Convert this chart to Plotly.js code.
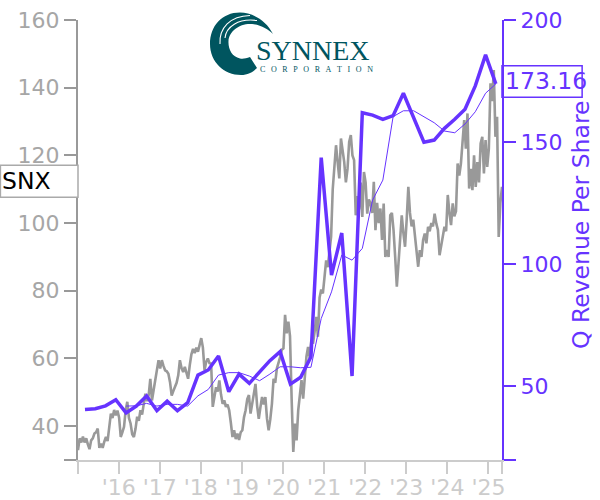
<!DOCTYPE html>
<html><head><meta charset="utf-8">
<script src="https://cdn.plot.ly/plotly-3.0.1.min.js"></script>
<style>html,body{margin:0;padding:0;background:#fff}</style></head>
<body><div id="chart" style="width:600px;height:500px"></div>
<script>
const priceValues=[
32.9,36.4,35.2,36.9,35.2,36.4,34.6,33.2,35.8,36.4,37.8,38.2,39.3,33.6,34.8,33.6,35.4,36.8,35.6,40.2,43.7,42.4,44.8,43.2,44.6,
42.6,36.8,38.2,39.8,44.7,47.2,42.4,40.8,37.6,36.8,39.2,42.8,41.6,44.7,43.4,46.8,49.6,47.4,49.2,54,47.6,50.6,54,57.2,59.5,
57,59.5,57.8,56.5,56.2,55.5,53,49,50.4,51.5,52.8,55,59.5,57.2,56,57.5,55.8,54,58,61.2,62.8,61.6,63.2,62,64,
66,63.2,56.5,59,60,58.6,58.5,45.7,49.2,51.5,50.2,53.5,49.4,46.6,47.6,45.7,46.4,44.7,41,36.8,38.8,36.2,37.8,35.9,38.2,
38.8,42.6,44.7,48,49.2,43.7,46.8,50.4,52.5,46,42.2,45.6,48.6,46.4,48.6,42.2,38.8,42,46.6,54,52.8,57,58.5,60.4,62.6,
63,72.9,67.4,70.9,66.6,48,32.4,40.8,35.8,44.7,50,53.6,48.1,56,60.5,63.4,60.2,65.4,64.4,68,72.3,66.4,78,80.4,79.2,
84,89,87,92,96,110,117.4,123,118,113.2,125,121,118,112,116,124,126,120,118.6,102.3,108,104,112,101.8,115.1,
112,102.8,107,105.8,103,112.2,97.9,106,100,104.3,95,105.8,90,92,90,102.3,103,97.9,90,81.2,88,96,102.3,97,93,
101,110.7,103,99,101,96.4,92,87.1,92,90,95,96.9,94,98.9,97.6,100,99,102.8,99.9,98,90.5,93,96,98.9,97.6,
108.3,103,99.4,105.8,102,103.5,117.6,114,117.6,124,130.4,122,132.4,110.2,116,109.7,120,110.7,118,112,123.5,125.5,114.7,124.5,116.6,
122,141.3,136,145.2,125.5,131.4,95.9,105.9,110.7];
const priceYears=priceValues.map((v,i)=>2015.01+0.04*i);
const revenueYears=[2015.18,2015.43,2015.68,2015.93,2016.18,2016.43,2016.68,2016.93,2017.18,2017.43,2017.68,2017.93,2018.18,2018.43,2018.68,2018.93,2019.18,2019.43,2019.68,2019.93,2020.18,2020.43,2020.68,2020.93,2021.18,2021.43,2021.68,2021.93,2022.18,2022.43,2022.68,2022.93,2023.18,2023.43,2023.68,2023.93,2024.18,2024.43,2024.68,2024.93,2025.18];
const revenueValues=[40.4,40.7,41.9,44.4,39,41.8,45.9,39.9,43.8,39.9,43.2,54.5,56.6,62.3,47.7,54.9,51.1,55.9,60.4,64.1,50.8,53.6,62,143.6,95.5,112.7,54.1,162,161,159.3,160.8,170,160,149.9,150.8,155.6,159.3,163.4,173,185.7,173.8];
const averageYears=revenueYears.slice(4);
const averageValues=[41.8,41.9,42.9,41.8,42.5,42.5,41.8,46,48.6,54.5,55.5,55.5,54.1,52.2,54.9,57.9,57.9,57.5,57.7,77.7,88.6,103.7,101.6,106.4,126.2,134.4,160.4,162.8,162.8,160.4,157.9,154.5,153.8,157.4,162.4,170,173.8];
const priceTicks=[30,40,60,80,100,120,140,160];
const priceTickText=['','40','60','80','100','120','140','160'];
const revenueTicks=[19.7,50,100,150,200];
const revenueTickText=['','50','100','150','200'];
const yearTicks=[2015.01,2016,2017,2018,2019,2020,2021,2022,2023,2024,2025,2025.33];
const yearTickText=['',"'16","'17","'18","'19","'20","'21","'22","'23","'24","'25",''];
const tickerLabel='SNX';
const lastLabel='173.16';
const axisTitle='Q Revenue Per Share';

const purple='#6633ff', gray='#999999', grayText='#a6a6a6', pale='#cccccc', teal='#00555f';
const F='"DejaVu Sans", sans-serif';
const swirl='<svg xmlns="http://www.w3.org/2000/svg" viewBox="205 8 75 72" width="300" height="288">'+
 '<path fill="'+teal+'" d="M273 34 C266 20 252 12.5 240 12.5 C222 12.5 210 26 210 44 C210 62 224 75 241 75 C248 75 253 72 257 68 L250 57 C246 58.5 243 59 240 58.5 C232 57 228 49 228.5 41 C229 31 240 23 252 24 C261 25 268 29 273 34 Z"/>'+
 '<path fill="none" stroke="#fff" stroke-width="1.1" d="M220 44 C219 28 230 16 250 15.5"/>'+
 '<path fill="none" stroke="#fff" stroke-width="1.1" d="M225 38 C226 27 238 18 257 20.5"/>'+
 '</svg>';
const traces=[
 {x:priceYears,y:priceValues,type:'scatter',mode:'lines',line:{color:gray,width:2.6},yaxis:'y',hoverinfo:'skip',showlegend:false},
 {x:averageYears,y:averageValues,type:'scatter',mode:'lines',line:{color:purple,width:1},yaxis:'y2',hoverinfo:'skip',showlegend:false},
 {x:revenueYears,y:revenueValues,type:'scatter',mode:'lines',line:{color:purple,width:3.5},yaxis:'y2',hoverinfo:'skip',showlegend:false}
];
const layout={
 width:600,height:500,autosize:false,showlegend:false,
 paper_bgcolor:'#fff',plot_bgcolor:'#fff',
 margin:{l:78,r:98,t:20,b:40,pad:0},
 font:{family:F,size:22},
 xaxis:{range:[2015.01,2025.33],tickmode:'array',tickvals:yearTicks,ticktext:yearTickText,ticks:'outside',ticklen:12,tickwidth:2,tickcolor:pale,showline:true,linecolor:pale,linewidth:2,showgrid:false,zeroline:false,tickfont:{family:F,size:22,color:pale},tickangle:0,ticklabelstandoff:-5},
 yaxis:{range:[30,160],tickmode:'array',tickvals:priceTicks,ticktext:priceTickText,ticks:'outside',ticklen:12,tickwidth:2,tickcolor:gray,showline:true,linecolor:gray,linewidth:2,showgrid:false,zeroline:false,tickfont:{family:F,size:22,color:grayText}},
 yaxis2:{range:[19.7,200],overlaying:'y',side:'right',tickmode:'array',tickvals:revenueTicks,ticktext:revenueTickText,ticks:'outside',ticklen:12,tickwidth:2,tickcolor:purple,showline:true,linecolor:purple,linewidth:2,showgrid:false,zeroline:false,tickfont:{family:F,size:22,color:purple}},
 shapes:[
  {type:'rect',xref:'paper',yref:'y',x0:-0.183,x1:0,y0:107.6,y1:117.1,line:{color:'#aaaaaa',width:1.5},fillcolor:'#ffffff',layer:'above'},
  {type:'rect',xref:'paper',yref:'y2',x0:1,x1:1.189,y0:168.3,y1:181.3,line:{color:purple,width:1.5},fillcolor:'rgba(255,255,255,0)',layer:'above'}
 ],
 annotations:[
  {text:tickerLabel,xref:'paper',yref:'paper',x:0,y:0.634,xanchor:'left',yanchor:'middle',xshift:-78,showarrow:false,font:{family:F,size:23.5,color:'#000'}},
  {text:lastLabel,xref:'paper',yref:'y2',x:1,y:175,xanchor:'left',yanchor:'middle',xshift:1,showarrow:false,font:{family:F,size:23.5,color:purple}},
  {text:axisTitle,xref:'paper',yref:'paper',x:(581-78)/424,y:(460-225)/440,xanchor:'center',yanchor:'middle',textangle:-90,showarrow:false,font:{family:F,size:23.5,color:purple}},
  {text:'SYNNEX',xref:'paper',yref:'paper',x:0.415,y:0.93,xanchor:'left',yanchor:'middle',showarrow:false,font:{family:'"Liberation Serif", serif',size:28,color:teal}},
  {text:'C\u2002\u2009O\u2002\u2009R\u2002\u2009P\u2002\u2009O\u2002\u2009R\u2002\u2009A\u2002\u2009T\u2002\u2009I\u2002\u2009O\u2002\u2009N',xref:'paper',yref:'paper',x:0.424,y:0.8875,xanchor:'left',yanchor:'middle',showarrow:false,font:{family:'"Liberation Serif", serif',size:8,color:teal}}
 ],
 images:[{source:'data:image/svg+xml;utf8,'+encodeURIComponent(swirl),xref:'paper',yref:'paper',x:(205-78)/424,y:(460-8)/440,sizex:75/424,sizey:72/440,xanchor:'left',yanchor:'top',sizing:'stretch',layer:'above'}]
};
Plotly.newPlot('chart',traces,layout,{displayModeBar:false,staticPlot:true});
</script></body></html>
